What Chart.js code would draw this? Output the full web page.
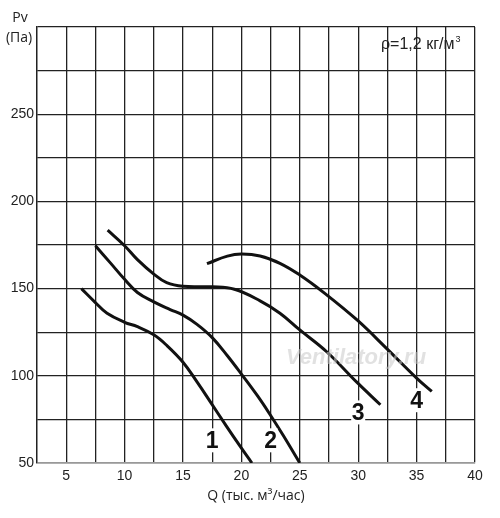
<!DOCTYPE html>
<html>
<head>
<meta charset="utf-8">
<script src="https://cdn.jsdelivr.net/npm/chart.js@4/dist/chart.umd.min.js"></script>
<style>
  html, body { margin: 0; padding: 0; background: #fff; }
  #wrap { width: 500px; height: 518px; }
</style>
</head>
<body>
<div id="wrap"><canvas id="grafico"></canvas></div>
<script>
// кривые (Q, тыс. м3/час ; Pv, Па)
const q1 = [6.3, 7.5, 8.5, 10.0, 11.1, 12.5, 13.6, 15.0, 16.2, 17.3, 18.7, 19.9, 20.9];
const p1 = [150, 142, 135.8, 130.7, 128.2, 123.5, 117.5, 107.8, 96.5, 85.5, 71.3, 59.5, 50];

const q2 = [7.5, 8.8, 10.0, 11.1, 12.5, 13.9, 15.0, 16.2, 17.5, 18.8, 20.0, 21.4, 22.45, 23.6, 25.0];
const p2 = [174.6, 164.6, 155.3, 147.8, 142.4, 138, 134.8, 129.5, 121.9, 111.5, 101, 88.3, 77.8, 65.6, 50];

const q3 = [8.55, 10.0, 11.1, 12.5, 13.6, 15.0, 17.5, 19.4, 21.6, 23.3, 25.0, 27.3, 29.9, 31.9];
const p3 = [183.5, 174.6, 166.6, 158.3, 153.4, 151.3, 151, 149.6, 143, 135.9, 126.3, 113.8, 96.2, 83.4];

const q4 = [17.05, 18.8, 20.0, 21.6, 23.3, 25.0, 27.0, 29.9, 32.4, 35.0, 36.3];
const p4 = [164.3, 168.6, 169.8, 168.7, 164.5, 157.8, 148, 132, 115.9, 98.7, 91];

// подписи кривых
const nomes = ["1", "2", "3", "4"];
const labelQ = [17.5, 22.5, 30, 35];
const labelP = [63, 63, 79, 86];

// оси
const xMin = 2.5, xMax = 40, xStep = 2.5;
const yMin = 50, yMax = 300, yStep = 25;

function serie(qs, ps) {
    return qs.map((q, i) => ({ x: q, y: ps[i] }));
}

const curvas = [serie(q1, p1), serie(q2, p2), serie(q3, p3), serie(q4, p4)];

// текст поверх графика
const textos = {
    id: "textos",
    afterDatasetsDraw(chart) {
        const ctx = chart.ctx;
        const sx = chart.scales.x, sy = chart.scales.y;
        ctx.save();

        // водяной знак
        ctx.font = "italic bold 22px 'Liberation Sans', Arial, sans-serif";
        ctx.fillStyle = "rgba(200,200,200,0.55)";
        ctx.textAlign = "center";
        ctx.textBaseline = "middle";
        ctx.fillText("Ventilatory.ru", 356, 358);

        // номера кривых
        ctx.font = "bold 23px 'Liberation Sans Narrow', 'Liberation Sans', Arial, sans-serif";
        nomes.forEach((n, i) => {
            const px = sx.getPixelForValue(labelQ[i]);
            const py = sy.getPixelForValue(labelP[i]);
            ctx.fillStyle = "#fff";
            ctx.fillRect(px - 7, py - 12, 14, 24);
            ctx.fillStyle = "#111";
            ctx.fillText(n, px, py + 1);
        });

        // плотность воздуха
        ctx.font = "16px 'Liberation Sans', Arial, sans-serif";
        ctx.textAlign = "left";
        ctx.textBaseline = "alphabetic";
        ctx.fillStyle = "#222";
        const t = "ρ=1,2 кг/м";
        ctx.fillText(t, 381, 49);
        const w = ctx.measureText(t).width;
        ctx.font = "9px 'Liberation Sans', Arial, sans-serif";
        ctx.fillText("3", 381 + w + 1, 42);

        // подпись оси Y
        ctx.font = "14px 'Open Sans', 'Liberation Sans', sans-serif";
        ctx.textAlign = "center";
        ctx.textBaseline = "middle";
        ctx.fillText("Pv", 20, 18);
        ctx.fillText("(Па)", 19, 38);

        ctx.restore();
    }
};

new Chart(document.getElementById("grafico"), {
    type: "scatter",
    data: {
        datasets: curvas.map((c, i) => ({
            label: nomes[i],
            data: c,
            showLine: true,
            borderColor: "#111",
            borderWidth: 3,
            pointRadius: 0,
            tension: 0.4,
            borderCapStyle: "butt"
        }))
    },
    options: {
        responsive: true,
        maintainAspectRatio: false,
        animation: false,
        layout: { padding: { left: 0, right: 25, top: 27, bottom: 14 } },
        plugins: {
            legend: { display: false },
            tooltip: { enabled: false }
        },
        scales: {
            x: {
                type: "linear",
                min: xMin,
                max: xMax,
                afterBuildTicks: s => {
                    s.ticks = [];
                    for (let v = xMin; v <= xMax + 0.001; v += xStep) s.ticks.push({ value: v });
                },
                afterFit: s => { s.height = 41; },
                grid: { color: "#222", lineWidth: 1.3, drawTicks: false },
                border: { color: "#999", width: 1.5 },
                ticks: {
                    padding: 5,
                    color: "#222",
                    font: { family: "'Liberation Sans', Arial, sans-serif", size: 14 },
                    maxRotation: 0,
                    autoSkip: false,
                    callback: v => (v % 5 === 0 && v > xMin && v <= xMax) ? v : ""
                },
                title: {
                    display: true,
                    text: "Q (тыс. м³/час)",
                    color: "#222",
                    font: { family: "'Open Sans', 'Liberation Sans', sans-serif", size: 14 },
                    padding: { top: 2, bottom: 0 }
                }
            },
            y: {
                type: "linear",
                min: yMin,
                max: yMax,
                afterBuildTicks: s => {
                    s.ticks = [];
                    for (let v = yMin; v <= yMax; v += yStep) s.ticks.push({ value: v });
                },
                afterFit: s => { s.width = 37; },
                grid: { color: "#222", lineWidth: 1.3, drawTicks: false },
                border: { color: "#222", width: 1.3 },
                ticks: {
                    padding: 3,
                    color: "#222",
                    font: { family: "'Liberation Sans', Arial, sans-serif", size: 14 },
                    autoSkip: false,
                    callback: v => (v % 50 === 0 && v < yMax) ? v : ""
                }
            }
        }
    },
    plugins: [textos]
});
</script>
</body>
</html>
